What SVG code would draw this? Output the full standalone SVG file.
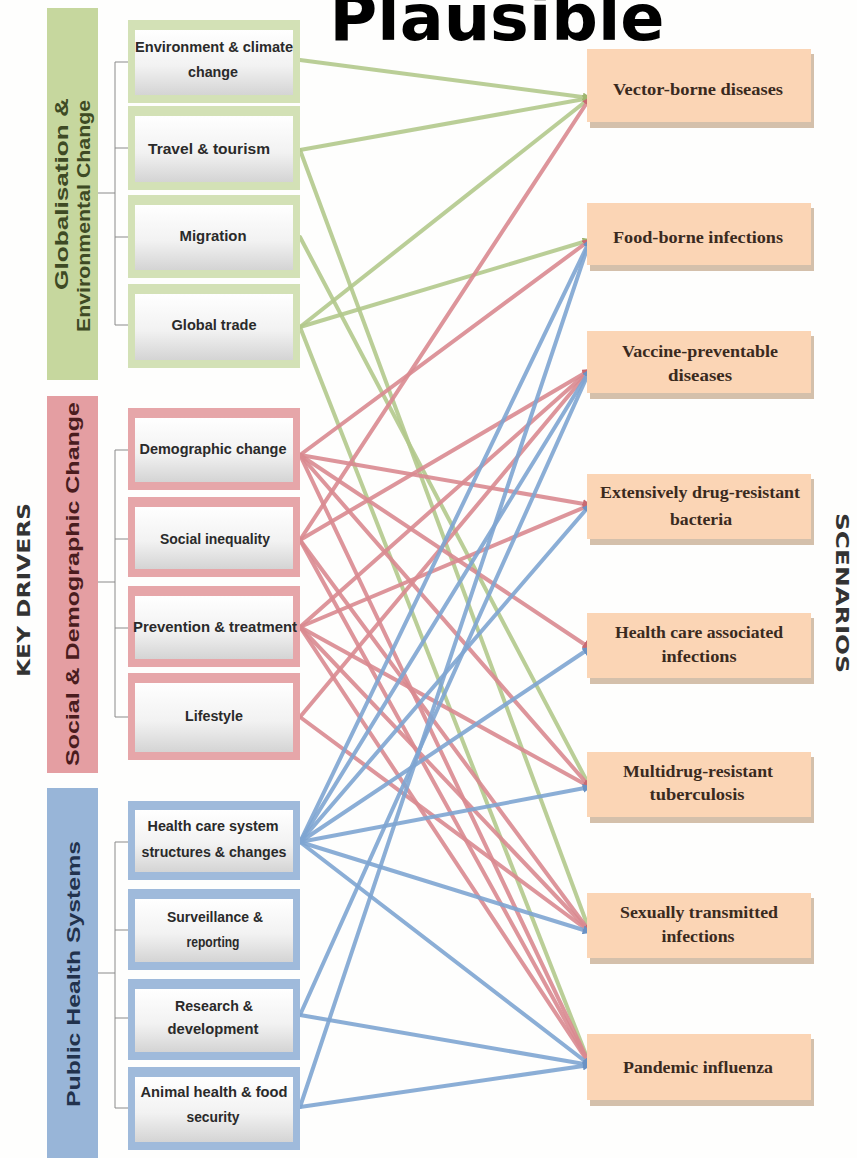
<svg xmlns="http://www.w3.org/2000/svg" width="857" height="1158" viewBox="0 0 857 1158">
  <defs>
    <linearGradient id="inner" x1="0" y1="0" x2="0" y2="1">
      <stop offset="0" stop-color="#ffffff"/>
      <stop offset="0.55" stop-color="#f2f2f2"/>
      <stop offset="1" stop-color="#d4d4d4"/>
    </linearGradient>
    <marker id="ah-g" viewBox="0 0 10 10" refX="8" refY="5" markerWidth="9" markerHeight="9" markerUnits="userSpaceOnUse" orient="auto">
      <path d="M0,0 L10,5 L0,10 z" fill="#9fb56f"/>
    </marker>
    <marker id="ah-r" viewBox="0 0 10 10" refX="8" refY="5" markerWidth="9" markerHeight="9" markerUnits="userSpaceOnUse" orient="auto">
      <path d="M0,0 L10,5 L0,10 z" fill="#c96a72"/>
    </marker>
    <marker id="ah-b" viewBox="0 0 10 10" refX="8" refY="5" markerWidth="9" markerHeight="9" markerUnits="userSpaceOnUse" orient="auto">
      <path d="M0,0 L10,5 L0,10 z" fill="#6a92c4"/>
    </marker>
    <style>
      .title { font-family: "DejaVu Sans", "Liberation Sans", sans-serif; font-weight: bold; font-size: 64px; fill: #000; }
      .side { font-family: "DejaVu Sans", "Liberation Sans", sans-serif; font-weight: bold; font-size: 17px; fill: #333; }
      .cat { font-family: "Liberation Sans", Arial, sans-serif; font-weight: bold; font-size: 18px; }
      .cat-g { fill: #3e4a24; }
      .cat-r { fill: #4a1c1e; }
      .cat-b { fill: #22324d; }
      .bar-g { fill: #c6d79e; }
      .bar-r { fill: #e49ea2; }
      .bar-b { fill: #98b5d8; }
      .frame-g { fill: #d3e1b6; }
      .frame-r { fill: #e6a6a9; }
      .frame-b { fill: #9fbadb; }
      .inner { fill: url(#inner); }
      .drv { font-family: "Liberation Sans", Arial, sans-serif; font-weight: bold; font-size: 14px; fill: #2a2a2a; text-anchor: middle; }
      .scn-box { fill: #fbd5b5; }
      .scn-shadow { fill: #c9b096; opacity: 0.8; }
      .scn { font-family: "Liberation Serif", "Times New Roman", serif; font-weight: bold; font-size: 16px; fill: #3a2a1e; text-anchor: middle; }
      .bracket { stroke: #8a8a8a; stroke-width: 1; fill: none; }
      .ln { fill: none; stroke-width: 4; stroke-linecap: round; }
      .ln-g { stroke: #b3c98c; stroke-opacity: 0.9; marker-end: url(#ah-g); }
      .ln-r { stroke: #d98a90; stroke-opacity: 0.9; marker-end: url(#ah-r); }
      .ln-b { stroke: #7ea5d2; stroke-opacity: 0.9; marker-end: url(#ah-b); }
    </style>
  </defs>

  <rect width="857" height="1158" fill="#fefefd"/>

  <!-- heading, partly cut off at the top edge -->
  <text class="title" x="497" y="40" text-anchor="middle" textLength="335" lengthAdjust="spacingAndGlyphs">Plausible</text>

  <!-- side captions -->
  <text class="side" transform="translate(30,590) rotate(-90)" text-anchor="middle" textLength="174" lengthAdjust="spacingAndGlyphs">KEY DRIVERS</text>
  <text class="side" transform="translate(836,593) rotate(90)" text-anchor="middle" textLength="160" lengthAdjust="spacingAndGlyphs">SCENARIOS</text>

  <!-- category bars -->
  <g id="cat-globalisation">
    <rect class="bar-g" x="47" y="8" width="51" height="372"/>
    <text class="cat cat-g" transform="translate(68,194) rotate(-90)" text-anchor="middle" textLength="192" lengthAdjust="spacingAndGlyphs">Globalisation &amp;</text>
    <text class="cat cat-g" transform="translate(90,216) rotate(-90)" text-anchor="middle" textLength="232" lengthAdjust="spacingAndGlyphs">Environmental Change</text>
  </g>
  <g id="cat-social">
    <rect class="bar-r" x="47" y="396" width="51" height="377"/>
    <text class="cat cat-r" transform="translate(79,584) rotate(-90)" text-anchor="middle" textLength="364" lengthAdjust="spacingAndGlyphs">Social &amp; Demographic Change</text>
  </g>
  <g id="cat-public-health">
    <rect class="bar-b" x="47" y="788" width="51" height="370"/>
    <text class="cat cat-b" transform="translate(80,974) rotate(-90)" text-anchor="middle" textLength="266" lengthAdjust="spacingAndGlyphs">Public Health Systems</text>
  </g>

  <!-- brackets joining each bar to its drivers -->
  <g id="brackets">
    <path class="bracket" d="M98,193 H115 M115,62 V325 M115,62 H128 M115,148 H128 M115,237 H128 M115,325 H128"/>
    <path class="bracket" d="M98,582 H115 M115,450 V717 M115,450 H128 M115,539 H128 M115,628 H128 M115,717 H128"/>
    <path class="bracket" d="M98,973 H115 M115,842 V1108 M115,842 H128 M115,930 H128 M115,1018 H128 M115,1108 H128"/>
  </g>

  <!-- connectors: driver (right edge) to scenario (left edge) -->
  <g id="connectors">
    <!-- globalisation & environmental change -->
    <line class="ln ln-g" x1="300" y1="60" x2="590" y2="98"/>
    <line class="ln ln-g" x1="300" y1="150" x2="590" y2="98"/>
    <line class="ln ln-g" x1="300" y1="150" x2="590" y2="932"/>
    <line class="ln ln-g" x1="300" y1="237" x2="590" y2="787"/>
    <line class="ln ln-g" x1="300" y1="327" x2="590" y2="98"/>
    <line class="ln ln-g" x1="300" y1="327" x2="590" y2="240"/>
    <line class="ln ln-g" x1="300" y1="327" x2="590" y2="1065"/>
    <!-- social & demographic change -->
    <line class="ln ln-r" x1="300" y1="455" x2="590" y2="240"/>
    <line class="ln ln-r" x1="300" y1="455" x2="590" y2="505"/>
    <line class="ln ln-r" x1="300" y1="455" x2="590" y2="648"/>
    <line class="ln ln-r" x1="300" y1="455" x2="590" y2="787"/>
    <line class="ln ln-r" x1="300" y1="455" x2="590" y2="1065"/>
    <line class="ln ln-r" x1="300" y1="540" x2="590" y2="98"/>
    <line class="ln ln-r" x1="300" y1="540" x2="590" y2="370"/>
    <line class="ln ln-r" x1="300" y1="540" x2="590" y2="932"/>
    <line class="ln ln-r" x1="300" y1="540" x2="590" y2="1065"/>
    <line class="ln ln-r" x1="300" y1="627" x2="590" y2="370"/>
    <line class="ln ln-r" x1="300" y1="627" x2="590" y2="505"/>
    <line class="ln ln-r" x1="300" y1="627" x2="590" y2="787"/>
    <line class="ln ln-r" x1="300" y1="627" x2="590" y2="932"/>
    <line class="ln ln-r" x1="300" y1="627" x2="590" y2="1065"/>
    <line class="ln ln-r" x1="300" y1="717" x2="590" y2="370"/>
    <line class="ln ln-r" x1="300" y1="717" x2="590" y2="932"/>
    <!-- public health systems -->
    <line class="ln ln-b" x1="300" y1="842" x2="590" y2="240"/>
    <line class="ln ln-b" x1="300" y1="842" x2="590" y2="370"/>
    <line class="ln ln-b" x1="300" y1="842" x2="590" y2="505"/>
    <line class="ln ln-b" x1="300" y1="842" x2="590" y2="648"/>
    <line class="ln ln-b" x1="300" y1="842" x2="590" y2="787"/>
    <line class="ln ln-b" x1="300" y1="842" x2="590" y2="932"/>
    <line class="ln ln-b" x1="300" y1="842" x2="590" y2="1065"/>
    <line class="ln ln-b" x1="300" y1="1015" x2="590" y2="370"/>
    <line class="ln ln-b" x1="300" y1="1015" x2="590" y2="1065"/>
    <line class="ln ln-b" x1="300" y1="1107" x2="590" y2="240"/>
    <line class="ln ln-b" x1="300" y1="1107" x2="590" y2="1065"/>
  </g>

  <!-- key drivers -->
  <g id="drv-environment">
    <rect class="frame-g" x="128" y="20" width="172" height="83"/>
    <rect class="inner" x="135" y="30" width="158" height="65"/>
    <text class="drv" x="214" y="52" textLength="158" lengthAdjust="spacingAndGlyphs">Environment &amp; climate</text>
    <text class="drv" x="213" y="77" textLength="50" lengthAdjust="spacingAndGlyphs">change</text>
  </g>
  <g id="drv-travel">
    <rect class="frame-g" x="128" y="106" width="172" height="84"/>
    <rect class="inner" x="135" y="116" width="158" height="66"/>
    <text class="drv" x="209" y="154" textLength="122" lengthAdjust="spacingAndGlyphs">Travel &amp; tourism</text>
  </g>
  <g id="drv-migration">
    <rect class="frame-g" x="128" y="195" width="172" height="83"/>
    <rect class="inner" x="135" y="205" width="158" height="65"/>
    <text class="drv" x="213" y="241" textLength="67" lengthAdjust="spacingAndGlyphs">Migration</text>
  </g>
  <g id="drv-trade">
    <rect class="frame-g" x="128" y="284" width="172" height="84"/>
    <rect class="inner" x="135" y="294" width="158" height="66"/>
    <text class="drv" x="214" y="330" textLength="85" lengthAdjust="spacingAndGlyphs">Global trade</text>
  </g>

  <g id="drv-demographic">
    <rect class="frame-r" x="128" y="408" width="172" height="82"/>
    <rect class="inner" x="135" y="418" width="158" height="64"/>
    <text class="drv" x="213" y="454" textLength="147" lengthAdjust="spacingAndGlyphs">Demographic change</text>
  </g>
  <g id="drv-inequality">
    <rect class="frame-r" x="128" y="497" width="172" height="80"/>
    <rect class="inner" x="135" y="507" width="158" height="62"/>
    <text class="drv" x="215" y="544" textLength="110" lengthAdjust="spacingAndGlyphs">Social inequality</text>
  </g>
  <g id="drv-prevention">
    <rect class="frame-r" x="128" y="586" width="172" height="81"/>
    <rect class="inner" x="135" y="596" width="158" height="63"/>
    <text class="drv" x="215" y="632" textLength="164" lengthAdjust="spacingAndGlyphs">Prevention &amp; treatment</text>
  </g>
  <g id="drv-lifestyle">
    <rect class="frame-r" x="128" y="673" width="172" height="87"/>
    <rect class="inner" x="135" y="683" width="158" height="69"/>
    <text class="drv" x="214" y="721" textLength="58" lengthAdjust="spacingAndGlyphs">Lifestyle</text>
  </g>

  <g id="drv-health-care">
    <rect class="frame-b" x="128" y="801" width="172" height="79"/>
    <rect class="inner" x="135" y="810" width="158" height="62"/>
    <text class="drv" x="213" y="831" textLength="131" lengthAdjust="spacingAndGlyphs">Health care system</text>
    <text class="drv" x="214" y="857" textLength="145" lengthAdjust="spacingAndGlyphs">structures &amp; changes</text>
  </g>
  <g id="drv-surveillance">
    <rect class="frame-b" x="128" y="889" width="172" height="81"/>
    <rect class="inner" x="135" y="899" width="158" height="63"/>
    <text class="drv" x="215" y="922" textLength="96" lengthAdjust="spacingAndGlyphs">Surveillance &amp;</text>
    <text class="drv" x="213" y="947" textLength="53" lengthAdjust="spacingAndGlyphs">reporting</text>
  </g>
  <g id="drv-research">
    <rect class="frame-b" x="128" y="979" width="172" height="81"/>
    <rect class="inner" x="135" y="989" width="158" height="63"/>
    <text class="drv" x="214" y="1011" textLength="78" lengthAdjust="spacingAndGlyphs">Research &amp;</text>
    <text class="drv" x="213" y="1034" textLength="91" lengthAdjust="spacingAndGlyphs">development</text>
  </g>
  <g id="drv-animal">
    <rect class="frame-b" x="128" y="1067" width="172" height="83"/>
    <rect class="inner" x="135" y="1077" width="158" height="65"/>
    <text class="drv" x="214" y="1097" textLength="147" lengthAdjust="spacingAndGlyphs">Animal health &amp; food</text>
    <text class="drv" x="213" y="1122" textLength="53" lengthAdjust="spacingAndGlyphs">security</text>
  </g>

  <!-- scenarios -->
  <g id="scn-vector">
    <rect class="scn-shadow" x="590" y="54" width="224" height="74"/>
    <rect class="scn-box" x="587" y="49" width="224" height="73"/>
    <text class="scn" x="698" y="95" textLength="170" lengthAdjust="spacingAndGlyphs">Vector-borne diseases</text>
  </g>
  <g id="scn-food">
    <rect class="scn-shadow" x="590" y="208" width="224" height="63"/>
    <rect class="scn-box" x="587" y="203" width="224" height="62"/>
    <text class="scn" x="698" y="243" textLength="170" lengthAdjust="spacingAndGlyphs">Food-borne infections</text>
  </g>
  <g id="scn-vaccine">
    <rect class="scn-shadow" x="590" y="336" width="224" height="63"/>
    <rect class="scn-box" x="587" y="331" width="224" height="62"/>
    <text class="scn" x="700" y="357" textLength="156" lengthAdjust="spacingAndGlyphs">Vaccine-preventable</text>
    <text class="scn" x="700" y="381" textLength="64" lengthAdjust="spacingAndGlyphs">diseases</text>
  </g>
  <g id="scn-xdr">
    <rect class="scn-shadow" x="590" y="479" width="224" height="66"/>
    <rect class="scn-box" x="587" y="474" width="224" height="65"/>
    <text class="scn" x="700" y="498" textLength="200" lengthAdjust="spacingAndGlyphs">Extensively drug-resistant</text>
    <text class="scn" x="701" y="525" textLength="62" lengthAdjust="spacingAndGlyphs">bacteria</text>
  </g>
  <g id="scn-hcai">
    <rect class="scn-shadow" x="590" y="618" width="224" height="66"/>
    <rect class="scn-box" x="587" y="613" width="224" height="65"/>
    <text class="scn" x="699" y="638" textLength="168" lengthAdjust="spacingAndGlyphs">Health care associated</text>
    <text class="scn" x="699" y="662" textLength="75" lengthAdjust="spacingAndGlyphs">infections</text>
  </g>
  <g id="scn-mdr">
    <rect class="scn-shadow" x="590" y="757" width="224" height="66"/>
    <rect class="scn-box" x="587" y="752" width="224" height="65"/>
    <text class="scn" x="698" y="777" textLength="150" lengthAdjust="spacingAndGlyphs">Multidrug-resistant</text>
    <text class="scn" x="697" y="800" textLength="95" lengthAdjust="spacingAndGlyphs">tuberculosis</text>
  </g>
  <g id="scn-sti">
    <rect class="scn-shadow" x="590" y="898" width="224" height="66"/>
    <rect class="scn-box" x="587" y="893" width="224" height="65"/>
    <text class="scn" x="699" y="918" textLength="158" lengthAdjust="spacingAndGlyphs">Sexually transmitted</text>
    <text class="scn" x="698" y="942" textLength="73" lengthAdjust="spacingAndGlyphs">infections</text>
  </g>
  <g id="scn-influenza">
    <rect class="scn-shadow" x="590" y="1039" width="224" height="67"/>
    <rect class="scn-box" x="587" y="1034" width="224" height="66"/>
    <text class="scn" x="698" y="1073" textLength="150" lengthAdjust="spacingAndGlyphs">Pandemic influenza</text>
  </g>
</svg>
